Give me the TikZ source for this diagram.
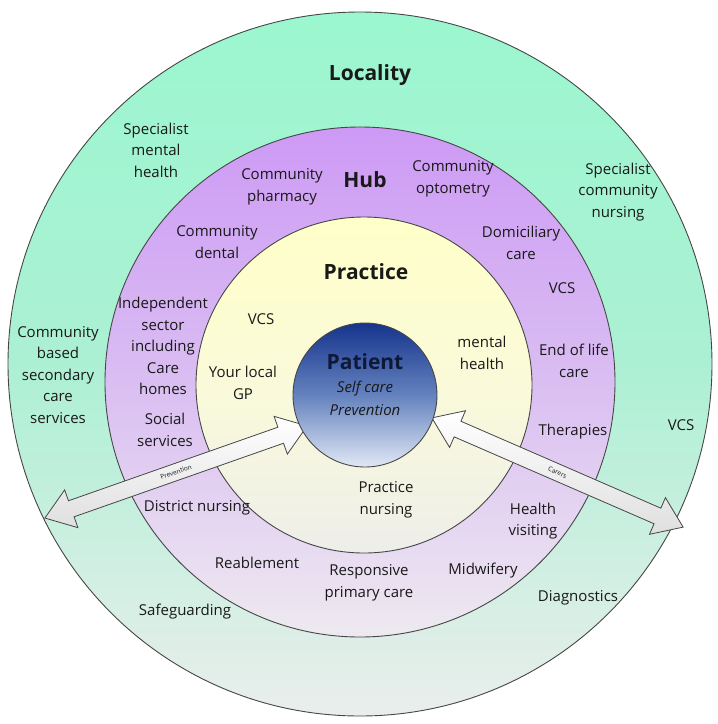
\documentclass[tikz,border=0pt]{standalone}
\usepackage{fontspec}
\setmainfont{Open Sans}
\definecolor{locTop}{RGB}{155,247,207}
\definecolor{locMid}{RGB}{172,240,212}
\definecolor{locBot}{RGB}{234,238,236}
\definecolor{hubTop}{RGB}{205,154,245}
\definecolor{hubMid}{RGB}{218,190,242}
\definecolor{hubBot}{RGB}{238,234,240}
\definecolor{pracTop}{RGB}{255,255,200}
\definecolor{pracMid}{RGB}{250,250,218}
\definecolor{pracBot}{RGB}{238,238,234}
\definecolor{patTop}{RGB}{22,52,140}
\definecolor{patMid}{RGB}{100,130,190}
\definecolor{patBot}{RGB}{225,232,245}
\definecolor{ringLine}{RGB}{70,70,70}
\definecolor{txt}{RGB}{25,25,25}
\definecolor{patTxt}{RGB}{16,24,56}
\begin{document}
\begin{tikzpicture}[x=1pt,y=-1pt,
  ring/.style={circle, draw=ringLine, line width=0.9pt, inner sep=0pt},
  lbl/.style={font=\fontsize{15}{21.5}\selectfont, align=center, text=txt, inner sep=0pt},
  head/.style={font=\bfseries\fontsize{21}{24}\selectfont, text=txt, inner sep=0pt},
  ital/.style={font=\itshape\fontsize{15}{20}\selectfont, text=txt, inner sep=0pt},
  blockarrow/.style={draw=ringLine, line width=0.8pt, line join=miter,
    top color=white, bottom color=gray!25},
  arrowtext/.style={transform shape, font=\fontsize{6.5}{7}\selectfont, text=txt, inner sep=0pt}]
\useasboundingbox (0,0) rectangle (718,724);

% rings
\node[ring, minimum size=704pt, top color=locTop, bottom color=locBot, middle color=locMid] (loc) at (360,364) {};
\node[ring, minimum size=510pt, top color=hubTop, bottom color=hubBot, middle color=hubMid] (hubring) at (360,382) {};
\node[ring, minimum size=336pt, top color=pracTop, bottom color=pracBot, middle color=pracMid] (pracring) at (364,385) {};

% block arrows
\begin{scope}[shift={(176,472)}, rotate=19.35]
  \draw[blockarrow] (-139,0) -- (-111,-20) -- (-111,-8.5) -- (111,-8.5) -- (111,-20)
    -- (139,0) -- (111,20) -- (111,8.5) -- (-111,8.5) -- (-111,20) -- cycle;
  \node[arrowtext] (arrLtext) at (0,0) {Prevention};
\end{scope}
\begin{scope}[shift={(557.5,472.5)}, rotate=-23.5]
  \draw[blockarrow] (-137,0) -- (-109,-20) -- (-109,-8.5) -- (109,-8.5) -- (109,-20)
    -- (137,0) -- (109,20) -- (109,8.5) -- (-109,8.5) -- (-109,20) -- cycle;
  \node[arrowtext] (arrRtext) at (0,0) {Carers};
\end{scope}

% patient
\node[ring, minimum size=144pt, top color=patTop, bottom color=patBot, middle color=patMid] (patring) at (365,395) {};

% headings
\node[head] (tLoc) at (370,75) {Locality};
\node[head] (tHub) at (365,180) {Hub};
\node[head] (tPrac) at (366,272) {Practice};
\node[head, text=patTxt] (tPat) at (365,362) {Patient};
\node[ital] (tSelf) at (365,389) {Self care};
\node[ital] (tPrev) at (365,410) {Prevention};

% locality labels
\node[lbl] (specmh) at (156,150) {Specialist\\mental\\health};
\node[lbl] (speccomm) at (618,192) {Specialist\\community\\nursing};
\node[lbl] (commbased) at (58,375) {Community\\based\\secondary\\care\\services};
\node[lbl] (vcsloc) at (681,425) {VCS};
\node[lbl] (diag) at (578,598) {Diagnostics};
\node[lbl] (safe) at (185,612) {Safeguarding};

% hub labels
\node[lbl] (commph) at (282,187) {Community\\pharmacy};
\node[lbl] (commopt) at (453,179) {Community\\optometry};
\node[lbl] (commdent) at (217,242) {Community\\dental};
\node[lbl] (domic) at (521,243) {Domiciliary\\care};
\node[lbl] (vcshub) at (562,288) {VCS};
\node[lbl] (indep) at (163,346) {Independent\\sector\\including\\Care\\homes};
\node[lbl] (endlife) at (574,361) {End of life\\care};
\node[lbl] (social) at (165,430) {Social\\services};
\node[lbl] (therap) at (573,432) {Therapies};
\node[lbl] (district) at (197,508) {District nursing};
\node[lbl] (health) at (533,521) {Health\\visiting};
\node[lbl] (reable) at (257,563) {Reablement};
\node[lbl] (respons) at (369,583) {Responsive\\primary care};
\node[lbl] (midwif) at (483,571) {Midwifery};

% practice labels
\node[lbl] (vcsprac) at (261,319) {VCS};
\node[lbl] (mental) at (482,353) {mental\\health};
\node[lbl] (gp) at (243,383) {Your local\\GP};
\node[lbl] (pracnurs) at (386,500) {Practice\\nursing};
\end{tikzpicture}
\end{document}
